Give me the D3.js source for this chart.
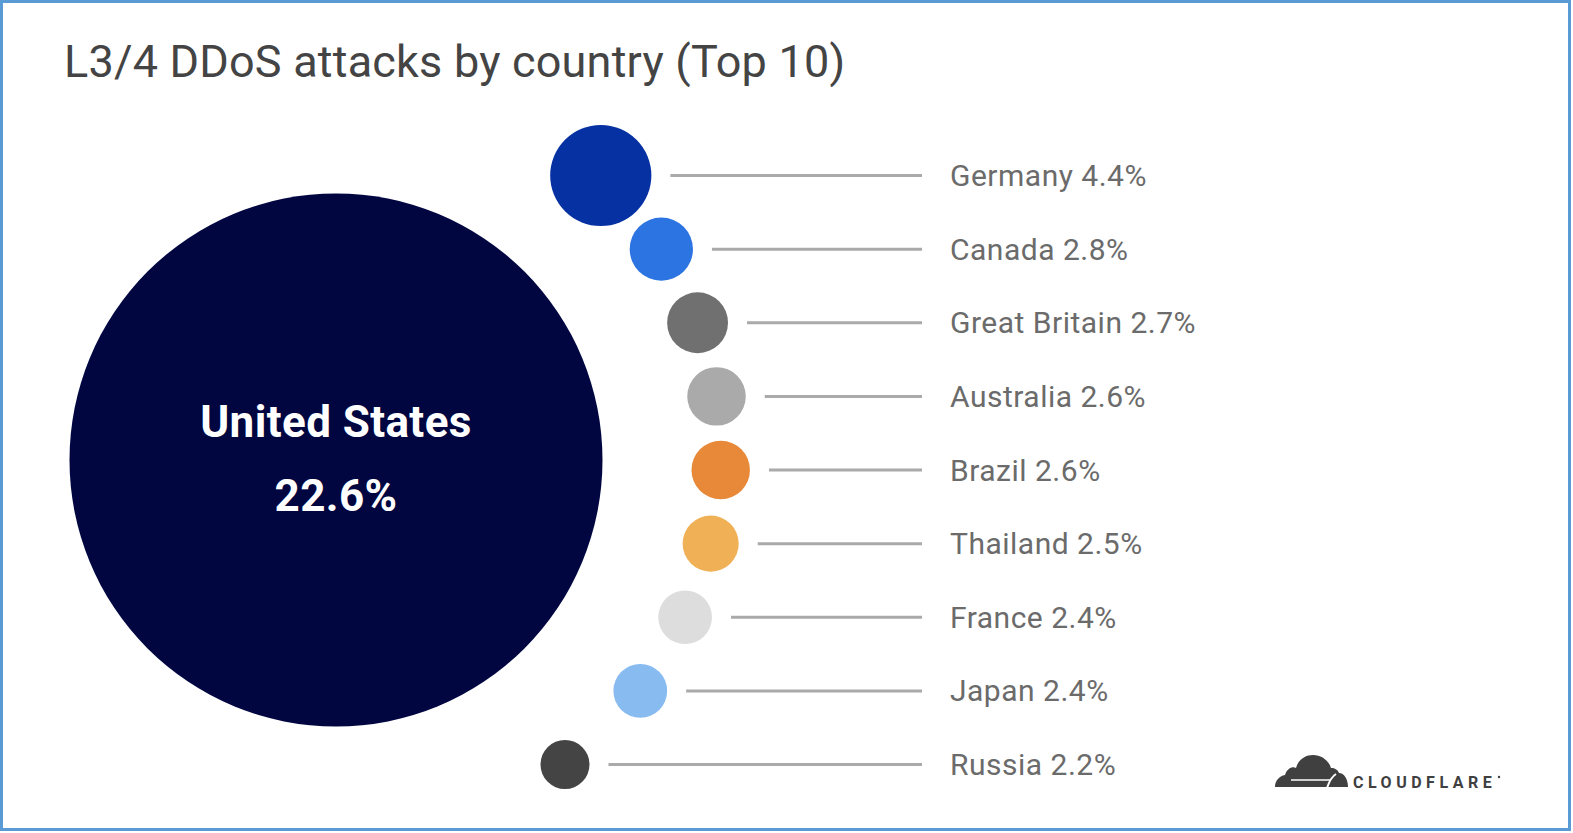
<!DOCTYPE html>
<html>
<head>
<meta charset="utf-8">
<script src="https://cdn.jsdelivr.net/npm/d3@7"></script>
<style>
  body { margin: 0; background: #fff; }
  svg { display: block; font-family: Roboto, "Noto Sans", sans-serif; }
  .title { fill: #444; font-size: 45px; letter-spacing: 0.2px; }
  .label { fill: #6b6b6b; font-size: 30px; letter-spacing: 0.5px; }
  .big-label { fill: #fff; font-size: 44px; font-weight: bold; letter-spacing: 0.4px; }
</style>
</head>
<body>
<svg class="chart"></svg>
<script>
const width = 1573;
const height = 833;

// top country, drawn as the big circle
const topCountry = 'United States';
const topValue = 22.6;

// the other nine, top to bottom
const countries = ['Germany', 'Canada', 'Great Britain', 'Australia', 'Brazil', 'Thailand', 'France', 'Japan', 'Russia'];
const values = [4.4, 2.8, 2.7, 2.6, 2.6, 2.5, 2.4, 2.4, 2.2];
const colors = ['#0631a3', '#2c74e1', '#707070', '#aaaaaa', '#e8893a', '#f0b156', '#dddddd', '#88bcf0', '#434443'];

const bigCenter = [336, 460];
const orbitCenter = [336, 455];
const orbit = 385;    // distance from orbit centre to the small circles
const lineGap = 19;   // space between a circle and its leader line
const lineEnd = 922;
const labelX = 950;

const svg = d3.select('svg.chart')
    .attr('width', width)
    .attr('height', height);

// frame
svg.append('rect')
    .attr('x', 1.5).attr('y', 1.5)
    .attr('width', 1568).attr('height', 828)
    .attr('fill', '#fff')
    .attr('stroke', '#5b9bd5')
    .attr('stroke-width', 3);

svg.append('text')
    .attr('class', 'title')
    .attr('x', 64)
    .attr('y', 77)
    .text('L3/4 DDoS attacks by country (Top 10)');

// circle radius grows with the share
const r = d3.scaleLinear()
    .domain([2.2, topValue])
    .range([24.5, 266.5]);

const y = d3.scalePoint()
    .domain(countries)
    .range([175.5, 764.5]);

// big circle
svg.append('circle')
    .attr('cx', bigCenter[0])
    .attr('cy', bigCenter[1])
    .attr('r', r(topValue))
    .attr('fill', '#010641');

svg.append('text')
    .attr('class', 'big-label')
    .attr('x', bigCenter[0])
    .attr('y', 437)
    .attr('text-anchor', 'middle')
    .text(topCountry);

svg.append('text')
    .attr('class', 'big-label')
    .attr('x', bigCenter[0])
    .attr('y', 511)
    .attr('text-anchor', 'middle')
    .text(topValue + '%');

// small circles sit on an arc round the big one
const rows = countries.map((c, i) => {
    const cy = y(c);
    const dy = cy - orbitCenter[1];
    const cx = orbitCenter[0] + Math.sqrt(orbit * orbit - dy * dy);
    return { country: c, value: values[i], color: colors[i], cx, cy };
});

const row = svg.append('g')
    .selectAll('g')
    .data(rows)
    .join('g');

row.append('circle')
    .attr('cx', d => d.cx)
    .attr('cy', d => d.cy)
    .attr('r', d => r(d.value))
    .attr('fill', d => d.color);

row.append('line')
    .attr('x1', d => d.cx + r(d.value) + lineGap)
    .attr('x2', lineEnd)
    .attr('y1', d => d.cy)
    .attr('y2', d => d.cy)
    .attr('stroke', '#aaaaaa')
    .attr('stroke-width', 3);

row.append('text')
    .attr('class', 'label')
    .attr('x', labelX)
    .attr('y', d => d.cy + 10.5)
    .text(d => `${d.country} ${d.value}%`);

// cloudflare logo, bottom right
const logo = svg.append('g')
    .attr('transform', 'translate(1275,755)');

logo.append('path')
    .attr('fill', '#404041')
    .attr('d', 'M0,32 C0,26 4,21 10,20 C12,13 18,11 21,13 C23,5 30,0 38,0 C47,0 54,6 56,13 C60,13 63,15 64,18 C69,18 73,24 73,32 Z');

// white cuts inside the cloud
logo.append('line')
    .attr('x1', 16).attr('x2', 55)
    .attr('y1', 25).attr('y2', 25)
    .attr('stroke', '#fff')
    .attr('stroke-width', 1.5);

logo.append('path')
    .attr('fill', 'none')
    .attr('stroke', '#fff')
    .attr('stroke-width', 2)
    .attr('d', 'M52,33 C54,27 56,22 61,19');

logo.append('text')
    .attr('x', 78)
    .attr('y', 32.5)
    .attr('fill', '#404041')
    .attr('font-size', 16)
    .attr('font-weight', 'bold')
    .attr('letter-spacing', 4.5)
    .text('CLOUDFLARE');

logo.append('circle')
    .attr('cx', 224).attr('cy', 22)
    .attr('r', 1.2)
    .attr('fill', '#404041');
</script>
</body>
</html>
